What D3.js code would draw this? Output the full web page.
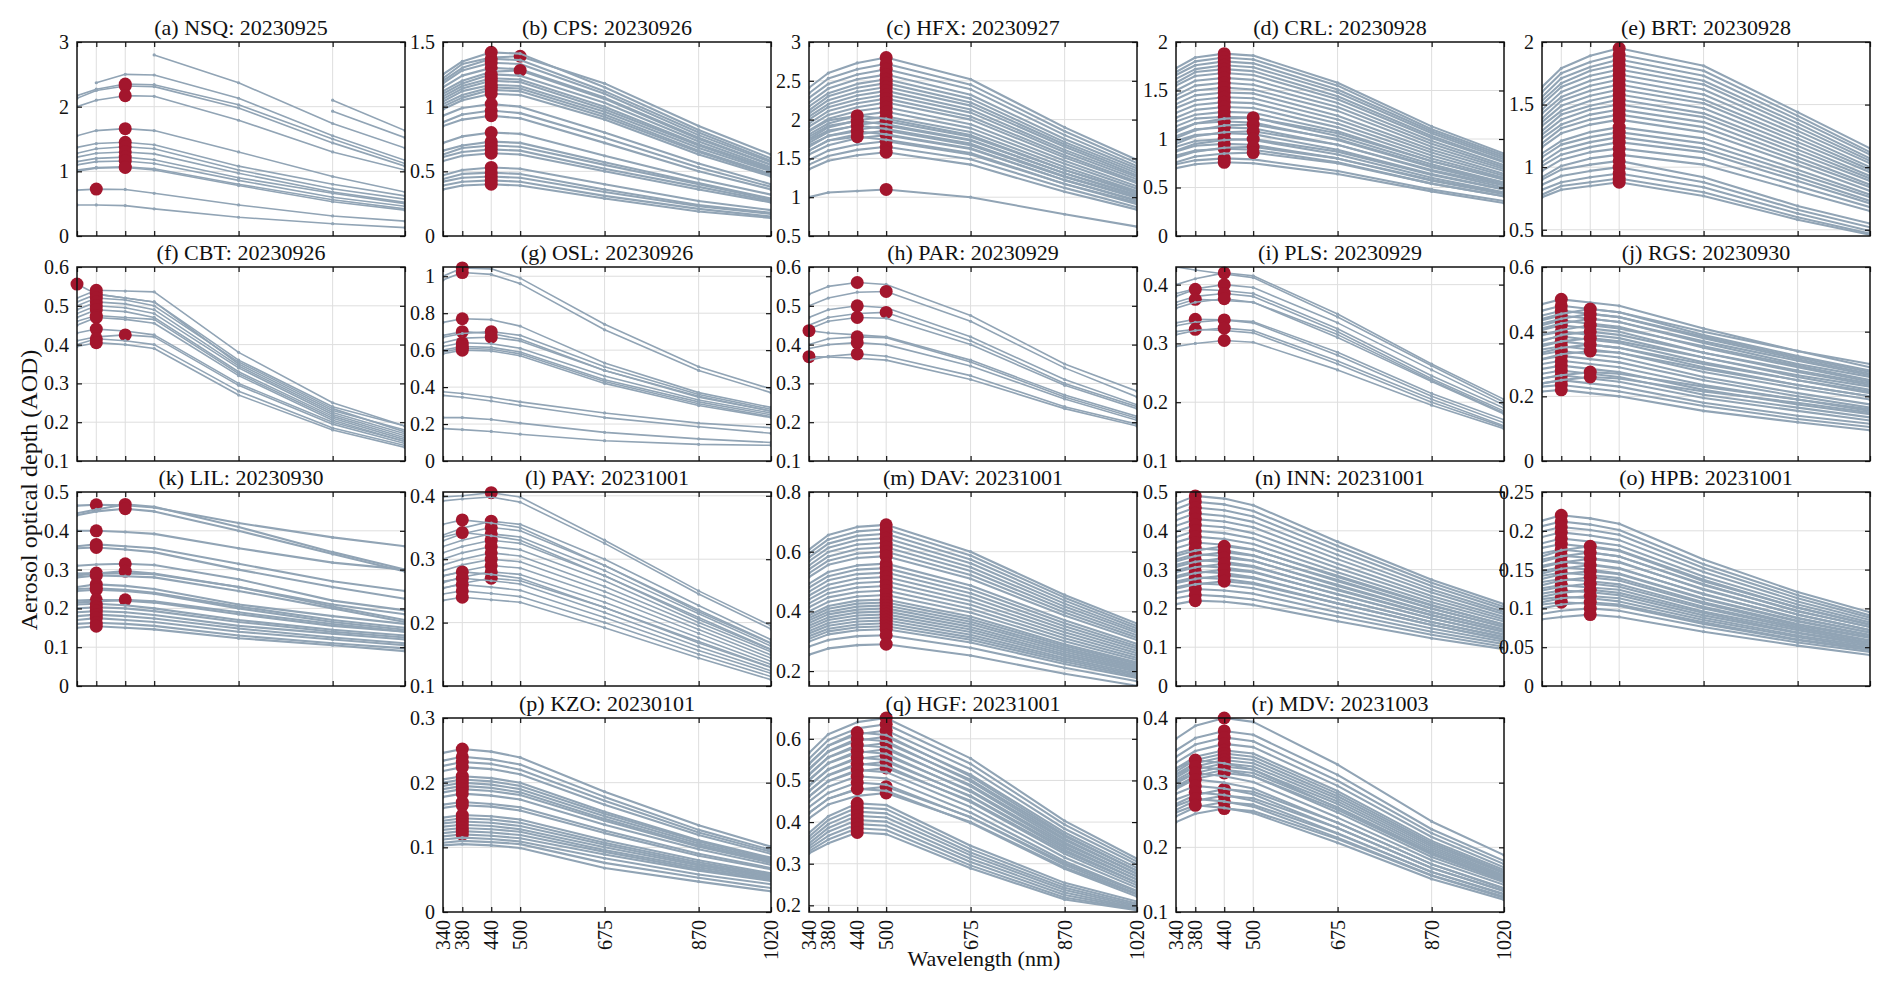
<!DOCTYPE html>
<html><head><meta charset="utf-8">
<script src="https://cdn.jsdelivr.net/npm/d3@7"></script>
<style>
html,body{margin:0;padding:0;background:#fff;}
svg{display:block;}
text{font-family:"Liberation Serif","Times New Roman",serif;fill:#111;}
</style></head><body>
<svg id="chart" width="1892" height="991"></svg>
<script>
// ---------------- DATA ----------------
const wavelengths = [340, 380, 440, 500, 675, 870, 1020];
const xTickLabels = ["340", "380", "440", "500", "675", "870", "1020"];
const panelTitles = ["(a) NSQ: 20230925","(b) CPS: 20230926","(c) HFX: 20230927","(d) CRL: 20230928","(e) BRT: 20230928",
  "(f) CBT: 20230926","(g) OSL: 20230926","(h) PAR: 20230929","(i) PLS: 20230929","(j) RGS: 20230930",
  "(k) LIL: 20230930","(l) PAY: 20231001","(m) DAV: 20231001","(n) INN: 20231001","(o) HPB: 20231001",
  "(p) KZO: 20230101","(q) HGF: 20231001","(r) MDV: 20231003"];
const yDomains = [[0,3],[0,1.5],[0.5,3],[0,2],[0.45,2],[0.1,0.6],[0,1.05],[0.1,0.6],[0.1,0.43],[0,0.6],
  [0,0.5],[0.1,0.406],[0.15,0.8],[0,0.5],[0,0.25],[0,0.3],[0.184,0.65],[0.1,0.4]];
const yTickValues = [[0,1,2,3],[0,0.5,1,1.5],[0.5,1,1.5,2,2.5,3],[0,0.5,1,1.5,2],[0.5,1,1.5,2],
  [0.1,0.2,0.3,0.4,0.5,0.6],[0,0.2,0.4,0.6,0.8,1],[0.1,0.2,0.3,0.4,0.5,0.6],[0.1,0.2,0.3,0.4],[0,0.2,0.4,0.6],
  [0,0.1,0.2,0.3,0.4,0.5],[0.1,0.2,0.3,0.4],[0.2,0.4,0.6,0.8],[0,0.1,0.2,0.3,0.4,0.5],[0,0.05,0.1,0.15,0.2,0.25],
  [0,0.1,0.2,0.3],[0.2,0.3,0.4,0.5,0.6],[0.1,0.2,0.3,0.4]];
const xAxisLabel = "Wavelength (nm)";
const yAxisLabel = "Aerosol optical depth (AOD)";

// each curve: [marked peak wavelength (0 = none), AOD at 340, 380, 440, 500, 675, 870, 1020]
const curvesA = [
[0,null,null,null,2.80,2.37,1.74,1.36],[0,null,2.37,2.50,2.49,2.13,1.55,1.17],
[440,2.17,2.27,2.35,2.34,2.03,1.50,1.12],[440,2.13,2.25,2.32,2.31,1.98,1.44,1.08],[440,2.00,2.10,2.17,2.16,1.79,1.30,1.02],
[0,null,null,null,null,null,2.10,1.63],[0,null,null,null,null,null,1.93,1.52],
[440,1.55,1.63,1.66,1.63,1.30,0.92,0.68],[440,1.37,1.43,1.45,1.41,1.08,0.80,0.62],[440,1.28,1.35,1.38,1.35,1.02,0.73,0.57],
[440,1.22,1.28,1.30,1.27,0.97,0.68,0.52],[440,1.15,1.20,1.22,1.18,0.90,0.66,0.50],[440,1.10,1.15,1.16,1.12,0.86,0.60,0.46],
[440,1.02,1.06,1.07,1.04,0.80,0.56,0.42],[440,1.00,1.05,1.06,1.02,0.78,0.53,0.40],
[380,0.71,0.725,0.72,0.66,0.48,0.31,0.23],[0,0.48,0.48,0.47,0.42,0.29,0.19,0.13]];
const curvesB = [
[500,1.22,1.33,1.38,1.39,1.18,0.85,0.63],[440,1.25,1.35,1.42,1.41,1.15,0.82,0.60],[440,1.20,1.30,1.37,1.36,1.12,0.80,0.58],
[440,1.18,1.28,1.34,1.33,1.10,0.78,0.57],[440,1.15,1.24,1.30,1.29,1.07,0.76,0.55],[500,1.12,1.20,1.27,1.28,1.06,0.75,0.55],
[440,1.10,1.18,1.25,1.24,1.03,0.73,0.53],[440,1.08,1.16,1.22,1.21,1.00,0.71,0.52],[440,1.06,1.14,1.20,1.19,0.98,0.70,0.51],
[440,1.04,1.12,1.17,1.16,0.96,0.68,0.50],[440,1.02,1.09,1.15,1.14,0.94,0.66,0.48],[440,1.00,1.07,1.13,1.12,0.92,0.65,0.47],
[440,0.98,1.05,1.10,1.09,0.90,0.63,0.46],[440,0.93,0.99,1.02,1.00,0.80,0.56,0.40],[440,0.88,0.94,0.97,0.95,0.76,0.53,0.38],
[440,0.85,0.90,0.93,0.91,0.72,0.50,0.36],[440,0.72,0.77,0.80,0.79,0.62,0.44,0.32],[440,0.66,0.70,0.73,0.72,0.57,0.41,0.29],
[440,0.63,0.68,0.70,0.69,0.55,0.40,0.28],[440,0.61,0.65,0.67,0.66,0.52,0.38,0.27],[440,0.58,0.62,0.64,0.63,0.50,0.36,0.26],
[440,0.47,0.51,0.53,0.52,0.40,0.27,0.20],[440,0.44,0.48,0.49,0.48,0.36,0.24,0.18],[440,0.42,0.45,0.46,0.45,0.34,0.23,0.17],
[440,0.39,0.42,0.43,0.42,0.31,0.21,0.15],[440,0.36,0.39,0.40,0.39,0.29,0.19,0.14]];
const curvesC = [
[500,2.41,2.60,2.73,2.80,2.52,1.90,1.48],[500,2.34,2.53,2.65,2.72,2.45,1.85,1.44],[500,2.28,2.46,2.58,2.65,2.39,1.80,1.40],
[500,2.22,2.40,2.52,2.58,2.32,1.75,1.37],[500,2.17,2.34,2.46,2.52,2.27,1.71,1.34],[500,2.12,2.30,2.41,2.47,2.22,1.68,1.31],
[500,2.08,2.25,2.36,2.42,2.18,1.65,1.28],[500,2.04,2.20,2.31,2.37,2.13,1.61,1.26],[500,2.00,2.16,2.26,2.32,2.09,1.58,1.23],
[500,1.95,2.11,2.21,2.27,2.04,1.54,1.20],[500,1.91,2.06,2.16,2.22,2.00,1.51,1.18],[500,1.86,2.01,2.11,2.16,1.94,1.47,1.14],
[500,1.81,1.95,2.05,2.10,1.89,1.43,1.11],[500,1.75,1.90,1.99,2.04,1.84,1.39,1.08],[500,1.70,1.84,1.93,1.98,1.78,1.35,1.05],
[500,1.65,1.79,1.87,1.92,1.73,1.31,1.02],[500,1.60,1.73,1.81,1.86,1.67,1.26,0.99],[500,1.55,1.67,1.76,1.80,1.62,1.22,0.95],
[500,1.48,1.60,1.68,1.72,1.55,1.17,0.91],[500,1.42,1.53,1.61,1.65,1.49,1.12,0.87],[500,1.36,1.47,1.54,1.58,1.42,1.07,0.84],
[440,1.85,1.99,2.05,2.01,1.80,1.35,1.07],[440,1.78,1.92,1.98,1.94,1.74,1.31,1.03],[440,1.73,1.86,1.92,1.88,1.69,1.27,1.00],
[440,1.67,1.79,1.85,1.81,1.63,1.22,0.96],[440,1.60,1.73,1.78,1.74,1.57,1.17,0.93],
[500,1.00,1.06,1.08,1.10,1.00,0.78,0.62]];
const curvesD = [
[440,1.73,1.84,1.88,1.86,1.58,1.13,0.85],[440,1.69,1.80,1.84,1.82,1.55,1.10,0.83],[440,1.66,1.76,1.80,1.78,1.51,1.08,0.81],
[440,1.62,1.72,1.76,1.74,1.48,1.06,0.79],[440,1.58,1.69,1.72,1.70,1.44,1.03,0.77],[440,1.55,1.65,1.68,1.66,1.41,1.01,0.76],
[440,1.50,1.60,1.63,1.61,1.37,0.98,0.73],[440,1.45,1.55,1.58,1.56,1.33,0.95,0.71],[440,1.41,1.50,1.53,1.51,1.29,0.92,0.69],
[440,1.36,1.45,1.48,1.47,1.24,0.89,0.67],[440,1.32,1.40,1.43,1.42,1.20,0.86,0.64],[440,1.27,1.35,1.38,1.37,1.16,0.83,0.62],
[440,1.22,1.30,1.33,1.32,1.12,0.80,0.60],[440,1.18,1.25,1.28,1.27,1.08,0.77,0.58],[440,1.13,1.21,1.23,1.22,1.03,0.74,0.55],
[440,1.09,1.16,1.18,1.17,0.99,0.71,0.53],[440,1.03,1.10,1.12,1.11,0.94,0.67,0.50],[440,0.98,1.04,1.06,1.05,0.89,0.64,0.48],
[440,0.92,0.98,1.00,0.99,0.84,0.60,0.45],[440,0.87,0.93,0.95,0.94,0.80,0.57,0.43],[440,0.83,0.88,0.90,0.89,0.76,0.54,0.41],
[440,0.74,0.78,0.80,0.79,0.67,0.48,0.36],[440,0.70,0.74,0.76,0.75,0.64,0.46,0.34],
[500,1.07,1.16,1.21,1.22,1.06,0.77,0.59],[500,1.01,1.09,1.14,1.15,1.00,0.72,0.55],[500,0.95,1.03,1.07,1.08,0.94,0.68,0.52],
[500,0.88,0.95,0.99,1.00,0.87,0.63,0.48],[500,0.81,0.87,0.91,0.92,0.80,0.58,0.44],[500,0.76,0.82,0.85,0.86,0.75,0.54,0.41]];
const curvesE = [
[500,1.64,1.79,1.89,1.95,1.81,1.44,1.15],[500,1.60,1.75,1.84,1.90,1.77,1.41,1.12],[500,1.56,1.71,1.80,1.86,1.73,1.38,1.10],
[500,1.53,1.67,1.77,1.82,1.69,1.35,1.07],[500,1.50,1.64,1.73,1.78,1.66,1.32,1.05],[500,1.46,1.60,1.69,1.74,1.62,1.29,1.03],
[500,1.43,1.56,1.65,1.70,1.58,1.26,1.00],[500,1.39,1.53,1.61,1.66,1.54,1.23,0.98],[500,1.36,1.49,1.57,1.62,1.51,1.20,0.96],
[500,1.33,1.45,1.53,1.58,1.47,1.17,0.93],[500,1.29,1.42,1.49,1.54,1.43,1.14,0.91],[500,1.26,1.38,1.46,1.50,1.40,1.11,0.89],
[500,1.23,1.34,1.42,1.46,1.36,1.08,0.86],[500,1.19,1.31,1.38,1.42,1.32,1.05,0.84],[500,1.16,1.27,1.34,1.38,1.28,1.02,0.81],
[500,1.11,1.21,1.28,1.32,1.23,0.98,0.78],[500,1.08,1.18,1.24,1.28,1.19,0.95,0.76],[500,1.04,1.14,1.20,1.24,1.15,0.92,0.73],
[500,1.01,1.10,1.16,1.20,1.12,0.89,0.71],[500,0.97,1.06,1.12,1.15,1.07,0.85,0.68],[500,0.92,1.01,1.07,1.10,1.02,0.81,0.65],
[500,0.90,0.98,1.02,1.05,0.92,0.69,0.55],
[500,0.86,0.93,0.97,1.00,0.88,0.66,0.52],[500,0.82,0.88,0.92,0.95,0.84,0.63,0.49],[500,0.78,0.85,0.88,0.91,0.80,0.60,0.47],
[500,0.76,0.82,0.85,0.88,0.77,0.58,0.46]];
const curvesF = [
[340,0.556,0.53,0.52,0.51,0.36,0.24,0.19],[380,0.52,0.54,0.538,0.536,0.38,0.25,0.19],[380,0.51,0.53,0.52,0.51,0.35,0.23,0.18],
[380,0.50,0.52,0.515,0.50,0.355,0.235,0.175],[380,0.49,0.51,0.505,0.49,0.345,0.225,0.17],[380,0.48,0.50,0.495,0.48,0.34,0.22,0.165],
[380,0.47,0.49,0.485,0.47,0.33,0.215,0.16],[380,0.46,0.475,0.47,0.465,0.325,0.21,0.155],[380,0.45,0.47,0.465,0.455,0.32,0.205,0.15],
[380,0.43,0.44,0.435,0.425,0.30,0.20,0.15],[440,0.41,0.42,0.425,0.42,0.295,0.195,0.145],[380,0.40,0.415,0.41,0.40,0.28,0.185,0.14],
[380,0.395,0.405,0.40,0.39,0.27,0.18,0.135]];
const curvesG = [
[380,1.00,1.045,1.04,0.99,0.74,0.51,0.39],[380,0.98,1.02,1.01,0.96,0.71,0.49,0.37],[380,0.75,0.77,0.765,0.73,0.53,0.37,0.29],
[380,0.68,0.70,0.69,0.66,0.49,0.35,0.27],[440,0.67,0.69,0.70,0.68,0.51,0.36,0.28],[440,0.64,0.665,0.67,0.65,0.49,0.345,0.27],
[380,0.62,0.64,0.635,0.61,0.46,0.33,0.26],[380,0.60,0.62,0.615,0.59,0.44,0.32,0.25],[380,0.59,0.61,0.605,0.58,0.43,0.31,0.24],
[380,0.58,0.60,0.595,0.57,0.42,0.30,0.235],[0,0.375,0.365,0.345,0.32,0.26,0.205,0.18],[0,0.355,0.345,0.325,0.30,0.235,0.185,0.15],
[0,0.235,0.235,0.225,0.205,0.155,0.12,0.10],[0,0.175,0.17,0.16,0.145,0.11,0.09,0.085]];
const curvesH = [
[440,0.53,0.55,0.56,0.555,0.475,0.35,0.28],[500,0.50,0.52,0.535,0.537,0.46,0.34,0.265],[440,0.47,0.49,0.50,0.495,0.42,0.31,0.245],
[500,0.45,0.47,0.48,0.483,0.41,0.30,0.24],[440,0.44,0.46,0.47,0.468,0.40,0.295,0.235],[340,0.436,0.43,0.425,0.42,0.36,0.27,0.215],
[440,0.40,0.415,0.42,0.418,0.355,0.265,0.21],[440,0.39,0.40,0.405,0.40,0.345,0.26,0.205],[340,0.369,0.368,0.365,0.36,0.31,0.235,0.19],
[440,0.36,0.37,0.376,0.37,0.32,0.24,0.195]];
const curvesI = [
[0,0.43,0.425,0.418,0.412,0.345,0.262,0.20],[440,0.40,0.41,0.42,0.415,0.35,0.265,0.205],[440,0.385,0.393,0.40,0.395,0.335,0.255,0.195],
[380,0.38,0.392,0.39,0.385,0.325,0.245,0.19],[440,0.37,0.38,0.385,0.38,0.32,0.24,0.185],[380,0.365,0.375,0.373,0.37,0.31,0.235,0.18],
[440,0.36,0.37,0.376,0.37,0.315,0.237,0.182],[380,0.335,0.341,0.34,0.335,0.28,0.21,0.165],[440,0.33,0.336,0.34,0.337,0.285,0.215,0.17],
[380,0.32,0.324,0.322,0.318,0.265,0.20,0.158],[440,0.315,0.322,0.326,0.322,0.27,0.205,0.16],[440,0.295,0.30,0.305,0.302,0.255,0.195,0.155]];
const curvesJ = [
[380,0.485,0.50,0.49,0.48,0.41,0.34,0.29],[380,0.465,0.48,0.47,0.46,0.39,0.325,0.28],[380,0.45,0.465,0.455,0.445,0.38,0.315,0.27],
[380,0.435,0.45,0.44,0.43,0.365,0.30,0.26],[380,0.42,0.435,0.425,0.415,0.35,0.29,0.245],[380,0.405,0.42,0.41,0.40,0.335,0.275,0.235],
[380,0.39,0.40,0.39,0.38,0.32,0.26,0.22],[380,0.375,0.385,0.375,0.365,0.305,0.25,0.21],[380,0.36,0.37,0.36,0.35,0.29,0.235,0.20],
[380,0.345,0.355,0.345,0.335,0.275,0.225,0.19],[380,0.33,0.34,0.33,0.32,0.26,0.21,0.175],[380,0.315,0.325,0.315,0.305,0.25,0.20,0.165],
[380,0.30,0.31,0.30,0.29,0.235,0.19,0.155],[380,0.285,0.295,0.285,0.275,0.22,0.175,0.145],[380,0.27,0.28,0.27,0.26,0.205,0.165,0.135],
[380,0.255,0.265,0.255,0.245,0.195,0.155,0.125],[380,0.24,0.25,0.24,0.23,0.18,0.14,0.115],[380,0.23,0.235,0.225,0.215,0.17,0.13,0.105],
[380,0.215,0.22,0.21,0.20,0.155,0.12,0.095],
[440,0.44,0.455,0.47,0.46,0.40,0.34,0.30],[440,0.425,0.44,0.455,0.445,0.385,0.32,0.275],[440,0.41,0.425,0.44,0.43,0.37,0.31,0.265],
[440,0.39,0.405,0.42,0.41,0.355,0.295,0.25],[440,0.37,0.39,0.40,0.39,0.335,0.28,0.24],[440,0.355,0.37,0.38,0.37,0.32,0.265,0.23],
[440,0.335,0.35,0.36,0.35,0.30,0.25,0.215],[440,0.315,0.33,0.34,0.335,0.285,0.235,0.20],[440,0.255,0.265,0.275,0.27,0.23,0.19,0.16],
[440,0.24,0.25,0.26,0.255,0.215,0.18,0.15]];
const curvesK = [
[380,0.465,0.467,0.466,0.46,0.42,0.383,0.36],[440,0.445,0.455,0.468,0.462,0.41,0.345,0.30],[440,0.44,0.45,0.457,0.45,0.40,0.34,0.295],
[380,0.40,0.40,0.397,0.392,0.355,0.318,0.30],[380,0.36,0.365,0.36,0.355,0.315,0.27,0.245],[380,0.355,0.357,0.352,0.345,0.30,0.255,0.225],
[440,0.31,0.313,0.315,0.312,0.275,0.22,0.195],[380,0.29,0.291,0.29,0.288,0.255,0.21,0.185],[440,0.285,0.29,0.296,0.29,0.255,0.205,0.17],
[380,0.28,0.285,0.283,0.28,0.245,0.20,0.165],[380,0.255,0.262,0.258,0.25,0.21,0.18,0.16],[380,0.25,0.252,0.248,0.24,0.205,0.17,0.15],
[380,0.245,0.248,0.245,0.238,0.20,0.165,0.145],[380,0.22,0.222,0.22,0.215,0.185,0.155,0.14],[440,0.215,0.218,0.222,0.218,0.19,0.16,0.14],
[380,0.21,0.212,0.208,0.20,0.17,0.145,0.13],[380,0.20,0.203,0.20,0.193,0.165,0.14,0.125],[380,0.19,0.193,0.19,0.183,0.155,0.135,0.12],
[380,0.18,0.184,0.18,0.174,0.148,0.125,0.11],[380,0.17,0.175,0.17,0.165,0.14,0.12,0.105],[380,0.16,0.163,0.16,0.155,0.13,0.11,0.097],
[380,0.15,0.154,0.15,0.146,0.123,0.105,0.09]];
const curvesL = [
[440,0.398,0.40,0.405,0.398,0.33,0.25,0.195],[0,0.392,0.395,0.398,0.39,0.325,0.245,0.19],
[440,0.338,0.349,0.36,0.355,0.30,0.227,0.173],[440,0.329,0.34,0.35,0.345,0.29,0.22,0.168],[440,0.32,0.33,0.34,0.335,0.282,0.214,0.163],
[440,0.31,0.32,0.33,0.325,0.274,0.208,0.158],[440,0.30,0.31,0.32,0.315,0.266,0.20,0.154],[440,0.291,0.30,0.31,0.305,0.257,0.195,0.149],
[440,0.282,0.291,0.30,0.296,0.249,0.189,0.144],[440,0.273,0.281,0.29,0.286,0.241,0.183,0.139],[440,0.263,0.272,0.28,0.276,0.232,0.176,0.134],
[440,0.254,0.262,0.27,0.266,0.224,0.17,0.13],
[380,0.355,0.362,0.357,0.35,0.29,0.217,0.167],[380,0.335,0.342,0.337,0.33,0.274,0.205,0.157],[380,0.274,0.28,0.276,0.27,0.224,0.168,0.129],
[380,0.265,0.27,0.266,0.261,0.216,0.162,0.124],[380,0.255,0.26,0.256,0.251,0.208,0.156,0.12],[380,0.245,0.25,0.246,0.241,0.20,0.15,0.115],
[380,0.235,0.24,0.236,0.232,0.192,0.144,0.11]];
const curvesM = [
[500,0.607,0.656,0.683,0.69,0.60,0.455,0.359],[500,0.594,0.641,0.668,0.675,0.587,0.446,0.351],[500,0.581,0.627,0.653,0.66,0.574,0.436,0.343],
[500,0.568,0.613,0.639,0.645,0.561,0.426,0.335],[500,0.554,0.599,0.624,0.63,0.548,0.416,0.328],[500,0.541,0.584,0.609,0.615,0.535,0.406,0.32],
[500,0.528,0.57,0.594,0.60,0.522,0.396,0.312],[500,0.515,0.556,0.579,0.585,0.509,0.386,0.304],[500,0.493,0.532,0.554,0.56,0.487,0.37,0.291],
[500,0.48,0.518,0.54,0.545,0.474,0.36,0.283],[500,0.466,0.504,0.525,0.53,0.461,0.35,0.276],[500,0.453,0.489,0.51,0.515,0.448,0.34,0.268],
[500,0.44,0.475,0.495,0.50,0.435,0.33,0.26],[500,0.427,0.461,0.48,0.485,0.422,0.32,0.252],[500,0.414,0.447,0.465,0.47,0.409,0.31,0.244],
[500,0.40,0.432,0.45,0.455,0.396,0.30,0.237],[500,0.387,0.418,0.436,0.44,0.383,0.29,0.229],[500,0.378,0.409,0.426,0.43,0.374,0.284,0.224],
[500,0.37,0.399,0.416,0.42,0.365,0.277,0.218],[500,0.361,0.39,0.406,0.41,0.357,0.271,0.213],[500,0.352,0.38,0.396,0.40,0.348,0.264,0.208],
[500,0.343,0.371,0.386,0.39,0.339,0.257,0.203],[500,0.334,0.361,0.376,0.38,0.331,0.251,0.198],[500,0.326,0.352,0.366,0.37,0.322,0.244,0.192],
[500,0.317,0.342,0.356,0.36,0.313,0.238,0.187],[500,0.308,0.333,0.347,0.35,0.305,0.231,0.182],[500,0.299,0.323,0.337,0.34,0.296,0.224,0.177],
[500,0.282,0.304,0.317,0.32,0.278,0.211,0.166],[500,0.255,0.276,0.287,0.29,0.252,0.191,0.151]];
const curvesN = [
[380,0.47,0.49,0.483,0.466,0.372,0.274,0.211],[380,0.456,0.475,0.468,0.451,0.361,0.266,0.204],[380,0.442,0.46,0.453,0.437,0.35,0.258,0.198],
[380,0.427,0.445,0.438,0.423,0.338,0.249,0.191],[380,0.413,0.43,0.424,0.409,0.327,0.241,0.185],[380,0.398,0.415,0.409,0.394,0.315,0.232,0.178],
[380,0.384,0.40,0.394,0.38,0.304,0.224,0.172],[380,0.37,0.385,0.379,0.366,0.293,0.216,0.166],[380,0.355,0.37,0.364,0.352,0.281,0.207,0.159],
[380,0.341,0.355,0.35,0.337,0.27,0.199,0.153],[380,0.326,0.34,0.335,0.323,0.258,0.19,0.146],[380,0.312,0.325,0.32,0.309,0.247,0.182,0.14],
[380,0.298,0.31,0.305,0.295,0.236,0.174,0.133],[380,0.283,0.295,0.291,0.28,0.224,0.165,0.127],[380,0.269,0.28,0.276,0.266,0.213,0.157,0.12],
[380,0.254,0.265,0.261,0.252,0.201,0.148,0.114],[380,0.24,0.25,0.246,0.238,0.19,0.14,0.108],[380,0.226,0.235,0.231,0.223,0.179,0.132,0.101],
[380,0.211,0.22,0.217,0.209,0.167,0.123,0.095],
[440,0.335,0.349,0.36,0.351,0.284,0.209,0.158],[440,0.321,0.335,0.345,0.336,0.273,0.20,0.152],[440,0.307,0.32,0.33,0.322,0.261,0.191,0.145],
[440,0.293,0.306,0.315,0.307,0.249,0.183,0.139],[440,0.279,0.291,0.30,0.293,0.237,0.174,0.132],[440,0.265,0.276,0.285,0.278,0.225,0.165,0.125],
[440,0.251,0.262,0.27,0.263,0.213,0.157,0.119]];
const curvesO = [
[380,0.213,0.22,0.216,0.209,0.163,0.121,0.095],[380,0.206,0.212,0.208,0.201,0.157,0.117,0.091],[380,0.199,0.205,0.201,0.195,0.152,0.113,0.088],
[380,0.192,0.198,0.194,0.188,0.147,0.109,0.085],[380,0.184,0.19,0.186,0.181,0.141,0.105,0.082],[380,0.178,0.183,0.179,0.174,0.135,0.101,0.079],
[380,0.171,0.176,0.172,0.167,0.13,0.097,0.076],[380,0.163,0.168,0.165,0.16,0.124,0.092,0.072],[380,0.155,0.16,0.157,0.152,0.118,0.088,0.069],
[380,0.148,0.153,0.15,0.145,0.113,0.084,0.066],[380,0.142,0.146,0.143,0.139,0.108,0.08,0.063],[380,0.134,0.138,0.135,0.131,0.102,0.076,0.059],
[380,0.126,0.13,0.127,0.124,0.096,0.072,0.056],[380,0.119,0.123,0.121,0.117,0.091,0.068,0.053],[380,0.112,0.115,0.113,0.109,0.085,0.063,0.049],
[380,0.105,0.108,0.106,0.103,0.08,0.059,0.046],
[440,0.167,0.175,0.18,0.175,0.137,0.101,0.079],[440,0.16,0.167,0.172,0.167,0.131,0.096,0.076],[440,0.153,0.159,0.164,0.159,0.125,0.092,0.072],
[440,0.145,0.151,0.156,0.151,0.119,0.087,0.069],[440,0.138,0.144,0.148,0.144,0.112,0.083,0.065],[440,0.13,0.136,0.14,0.136,0.106,0.078,0.062],
[440,0.123,0.128,0.132,0.128,0.10,0.074,0.058],[440,0.115,0.12,0.124,0.12,0.094,0.069,0.055],[440,0.108,0.113,0.116,0.113,0.088,0.065,0.051],
[440,0.10,0.105,0.108,0.105,0.082,0.06,0.048],[440,0.093,0.097,0.10,0.097,0.076,0.056,0.044],[440,0.086,0.089,0.092,0.089,0.07,0.052,0.04]];
const curvesP = [
[380,0.246,0.252,0.248,0.239,0.186,0.134,0.101],[380,0.234,0.24,0.236,0.228,0.178,0.127,0.096],[380,0.226,0.232,0.229,0.22,0.172,0.123,0.093],
[380,0.218,0.224,0.221,0.213,0.166,0.119,0.09],[380,0.205,0.21,0.207,0.20,0.155,0.111,0.084],[380,0.20,0.205,0.202,0.195,0.152,0.109,0.082],
[380,0.195,0.20,0.197,0.19,0.148,0.106,0.08],[380,0.19,0.195,0.192,0.185,0.144,0.103,0.078],[380,0.185,0.19,0.187,0.181,0.141,0.101,0.076],
[380,0.178,0.183,0.18,0.174,0.135,0.097,0.073],[380,0.166,0.17,0.167,0.162,0.126,0.09,0.068],[380,0.161,0.165,0.163,0.157,0.122,0.087,0.066],
[380,0.146,0.15,0.148,0.143,0.111,0.08,0.06],[380,0.141,0.145,0.143,0.138,0.107,0.077,0.058],[380,0.137,0.14,0.138,0.133,0.104,0.074,0.056],
[380,0.132,0.135,0.133,0.128,0.10,0.072,0.054],[380,0.127,0.13,0.128,0.124,0.096,0.069,0.052],[380,0.122,0.125,0.123,0.119,0.093,0.066,0.05],
[380,0.117,0.12,0.118,0.114,0.089,0.064,0.048],[0,0.112,0.115,0.113,0.109,0.083,0.058,0.043],[0,0.107,0.11,0.108,0.105,0.076,0.053,0.037],
[0,0.103,0.105,0.103,0.099,0.068,0.047,0.032]];
const curvesQ = [
[500,0.566,0.611,0.64,0.65,0.553,0.403,0.312],[500,0.552,0.597,0.625,0.635,0.54,0.394,0.305],[500,0.539,0.583,0.611,0.62,0.527,0.384,0.298],
[500,0.526,0.569,0.596,0.605,0.514,0.375,0.29],[500,0.513,0.555,0.581,0.59,0.502,0.366,0.283],[500,0.50,0.541,0.566,0.575,0.489,0.357,0.276],
[500,0.487,0.526,0.552,0.56,0.476,0.347,0.269],[500,0.474,0.512,0.537,0.545,0.463,0.338,0.262],[500,0.461,0.498,0.522,0.53,0.451,0.329,0.254],
[500,0.422,0.456,0.478,0.485,0.412,0.301,0.233],[500,0.409,0.442,0.463,0.47,0.40,0.291,0.226],
[440,0.541,0.584,0.615,0.609,0.51,0.369,0.283],[440,0.528,0.57,0.60,0.594,0.498,0.36,0.276],[440,0.515,0.556,0.585,0.579,0.486,0.351,0.269],
[440,0.502,0.542,0.57,0.564,0.473,0.342,0.262],[440,0.488,0.527,0.555,0.549,0.461,0.333,0.255],[440,0.475,0.513,0.54,0.535,0.448,0.324,0.248],
[440,0.462,0.499,0.525,0.52,0.436,0.315,0.242],[440,0.449,0.485,0.51,0.505,0.423,0.306,0.235],[440,0.436,0.47,0.495,0.49,0.411,0.297,0.228],
[440,0.422,0.456,0.48,0.475,0.398,0.288,0.221],
[440,0.374,0.414,0.445,0.441,0.343,0.254,0.209],[440,0.365,0.405,0.435,0.431,0.335,0.248,0.204],[440,0.357,0.395,0.425,0.421,0.327,0.242,0.20],
[440,0.349,0.386,0.415,0.411,0.32,0.237,0.197],[440,0.342,0.377,0.405,0.401,0.312,0.231,0.194],[440,0.336,0.367,0.395,0.391,0.304,0.225,0.192],
[440,0.33,0.358,0.385,0.381,0.296,0.219,0.19],[440,0.325,0.349,0.375,0.371,0.289,0.214,0.188]];
const curvesR = [
[440,0.368,0.388,0.40,0.394,0.328,0.24,0.188],[440,0.35,0.369,0.38,0.374,0.312,0.228,0.179],[440,0.34,0.359,0.37,0.364,0.303,0.222,0.174],
[440,0.331,0.349,0.36,0.355,0.295,0.216,0.169],[440,0.322,0.34,0.35,0.345,0.287,0.21,0.165],[440,0.317,0.335,0.345,0.34,0.283,0.207,0.162],
[440,0.313,0.33,0.34,0.335,0.279,0.204,0.16],[440,0.308,0.325,0.335,0.33,0.275,0.201,0.157],[440,0.304,0.32,0.33,0.325,0.271,0.198,0.155],
[440,0.299,0.315,0.325,0.32,0.267,0.195,0.153],[440,0.294,0.31,0.32,0.315,0.262,0.192,0.15],[440,0.29,0.306,0.315,0.31,0.258,0.189,0.148],
[440,0.267,0.281,0.29,0.286,0.238,0.174,0.136],[440,0.258,0.272,0.28,0.276,0.23,0.168,0.132],[440,0.248,0.262,0.27,0.266,0.221,0.162,0.127],
[440,0.239,0.252,0.26,0.256,0.213,0.156,0.122],
[380,0.322,0.335,0.33,0.32,0.261,0.191,0.151],[380,0.312,0.325,0.32,0.31,0.254,0.185,0.146],[380,0.302,0.315,0.31,0.301,0.246,0.18,0.142],
[380,0.293,0.305,0.30,0.291,0.238,0.174,0.137],[380,0.283,0.295,0.291,0.282,0.23,0.168,0.133],[380,0.274,0.285,0.281,0.272,0.222,0.162,0.128],
[380,0.264,0.275,0.271,0.263,0.215,0.157,0.124],[380,0.254,0.265,0.261,0.253,0.207,0.151,0.119]];

const panelCurves = [curvesA,curvesB,curvesC,curvesD,curvesE,curvesF,curvesG,curvesH,curvesI,curvesJ,
  curvesK,curvesL,curvesM,curvesN,curvesO,curvesP,curvesQ,curvesR];

// ---------------- LAYOUT ----------------
const colX = [77, 443, 809, 1176, 1542];
const rowY = [42, 267, 492, 718];
const W = 328, H = 194;
const slots = [[0,0],[0,1],[0,2],[0,3],[0,4],[1,0],[1,1],[1,2],[1,3],[1,4],[2,0],[2,1],[2,2],[2,3],[2,4],[3,1],[3,2],[3,3]];
const lineColor = "#91a4b5", peakColor = "#a3162d", gridColor = "#dedede";
const tickFont = 20, titleFont = 22, xLabelFont = 22, yLabelFont = 24;

const svg = d3.select("#chart");
const defs = svg.append("defs");
const x = d3.scaleLinear().domain([340, 1020]).range([0, W]);
const fmt = v => String(+v.toFixed(3));

panelCurves.forEach((curves, i) => {
  const [r, c] = slots[i];
  const g = svg.append("g").attr("transform", `translate(${colX[c]},${rowY[r]})`);
  const y = d3.scaleLinear().domain(yDomains[i]).range([H, 0]);
  defs.append("clipPath").attr("id", "clip" + i).append("rect").attr("width", W).attr("height", H);
  const lw = curves.length > 20 ? 2.1 : 1.6;

  // grid
  g.append("g").selectAll("line").data(wavelengths.filter(w => w > 340 && w < 1020)).join("line")
    .attr("x1", d => x(d)).attr("x2", d => x(d)).attr("y1", 0).attr("y2", H)
    .attr("stroke", gridColor).attr("stroke-width", 1);
  g.append("g").selectAll("line").data(yTickValues[i].filter(v => y(v) > 1 && y(v) < H - 1)).join("line")
    .attr("x1", 0).attr("x2", W).attr("y1", d => y(d)).attr("y2", d => y(d))
    .attr("stroke", gridColor).attr("stroke-width", 1);

  // curves
  const line = d3.line().defined(d => d[1] != null).x(d => x(d[0])).y(d => y(d[1]));
  const cg = g.append("g");
  curves.forEach(cv => {
    const pts = wavelengths.map((w, k) => [w, cv[k + 1]]);
    cg.append("path").attr("d", line(pts)).attr("fill", "none")
      .attr("stroke", lineColor).attr("stroke-width", lw).attr("stroke-linejoin", "round")
      .attr("clip-path", `url(#clip${i})`);
    pts.filter(p => p[1] != null).forEach(p => {
      cg.append("circle").attr("cx", x(p[0])).attr("cy", y(p[1])).attr("r", 1.6)
        .attr("fill", lineColor).attr("clip-path", `url(#clip${i})`);
    });
    if (cv[0]) {
      const k = wavelengths.indexOf(cv[0]);
      cg.append("circle").attr("cx", x(cv[0])).attr("cy", y(cv[k + 1])).attr("r", 6.5).attr("fill", peakColor);
    }
  });

  // axes (inward ticks on all four sides)
  const left = g.append("g").call(d3.axisLeft(y).tickValues(yTickValues[i]).tickSize(-5).tickPadding(8).tickFormat(fmt));
  const right = g.append("g").attr("transform", `translate(${W},0)`).call(d3.axisRight(y).tickValues(yTickValues[i]).tickSize(-5).tickFormat(""));
  const top = g.append("g").call(d3.axisTop(x).tickValues(wavelengths).tickSize(-5).tickFormat(""));
  const bottom = g.append("g").attr("transform", `translate(0,${H})`).call(d3.axisBottom(x).tickValues(wavelengths).tickSize(-5).tickFormat(""));
  [left, right, top, bottom].forEach(a => {
    a.select(".domain").remove();
    a.selectAll("line").attr("stroke", "#111").attr("stroke-width", 1.2);
  });
  left.selectAll("text").attr("font-size", tickFont).attr("font-family", "Liberation Serif").attr("fill", "#111");

  if (r === 3) {
    g.append("g").selectAll("text").data(wavelengths).join("text")
      .attr("transform", (d) => `translate(${x(d)},${H + 8}) rotate(-90)`)
      .attr("text-anchor", "end").attr("dy", "0.35em")
      .attr("font-size", tickFont).text((d, k) => xTickLabels[k]);
  }

  g.append("rect").attr("width", W).attr("height", H).attr("fill", "none")
    .attr("stroke", "#111").attr("stroke-width", 1.5);

  g.append("text").attr("x", W / 2).attr("y", -7).attr("text-anchor", "middle")
    .attr("font-size", titleFont).text(panelTitles[i]);
});

svg.append("text").attr("transform", "translate(29,490) rotate(-90)").attr("text-anchor", "middle")
  .attr("dy", "0.35em").attr("font-size", yLabelFont).text(yAxisLabel);
svg.append("text").attr("x", 984).attr("y", 966).attr("text-anchor", "middle")
  .attr("font-size", xLabelFont).text(xAxisLabel);
</script>
</body></html>
